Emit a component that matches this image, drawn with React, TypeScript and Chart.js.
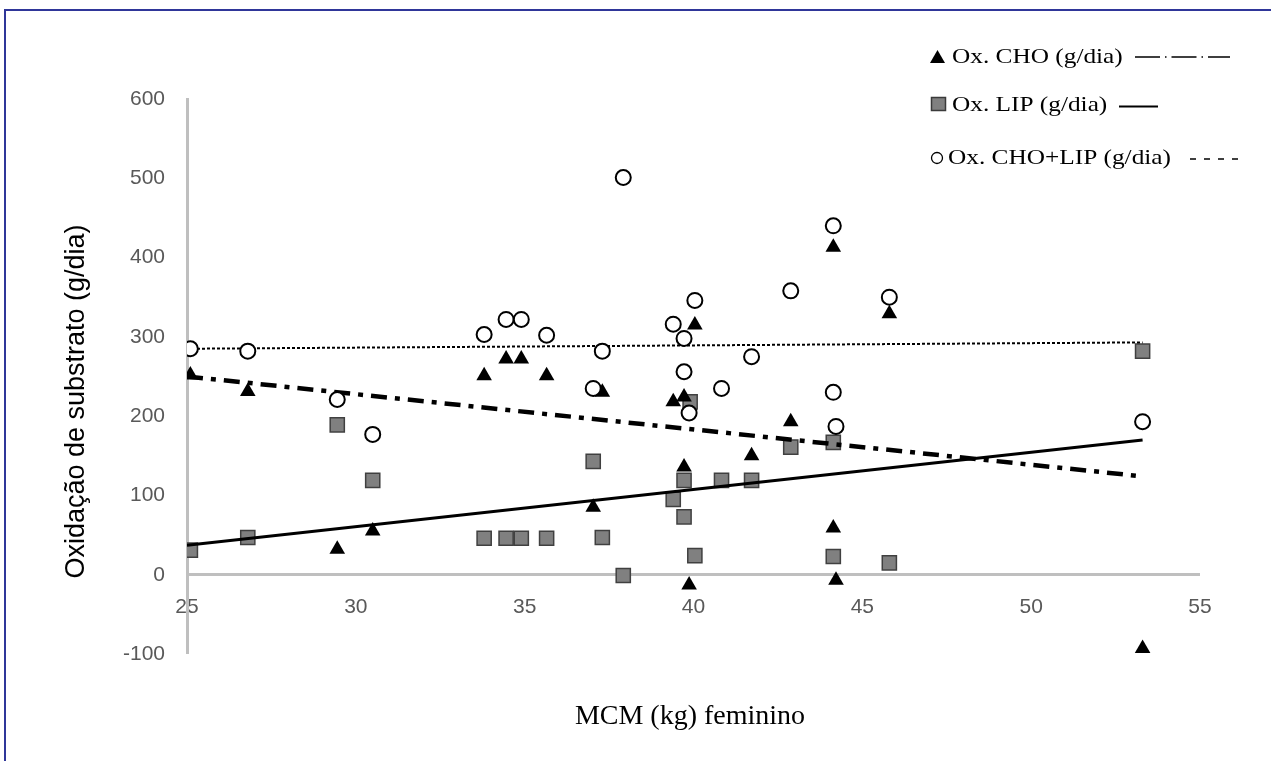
import React, { useEffect, useRef } from 'react';
import { Chart, registerables } from 'chart.js';

Chart.register(...registerables);

// ---- Data ----
const choX = [25.1, 26.8, 29.45, 30.5, 33.8, 34.45, 34.9, 35.65, 37.03, 37.3, 39.4, 39.72, 39.72, 39.87, 40.04, 41.72, 42.88, 44.14, 44.14, 44.22, 45.8, 53.3];
const choY = [252, 231, 32, 55, 251, 272, 272, 251, 85, 230, 218, 224, 136, -13, 315, 150, 193, 413, 59, -7, 329, -93];

const lipX = [25.1, 26.8, 29.45, 30.5, 33.8, 34.45, 34.9, 35.65, 37.03, 37.3, 37.92, 39.4, 39.72, 39.72, 39.9, 40.04, 40.83, 41.72, 42.88, 44.14, 44.14, 45.8, 53.3];
const lipY = [31, 47, 189, 119, 46, 46, 46, 46, 143, 47, -1, 95, 119, 73, 218, 24, 119, 119, 161, 167, 23, 15, 282];

const totX = [25.1, 26.8, 29.45, 30.5, 33.8, 34.45, 34.9, 35.65, 37.03, 37.3, 37.92, 39.4, 39.72, 39.72, 39.87, 40.04, 40.83, 41.72, 42.88, 44.14, 44.14, 44.22, 45.8, 53.3];
const totY = [285, 282, 221, 177, 303, 322, 322, 302, 235, 282, 501, 316, 298, 256, 204, 346, 235, 275, 358, 440, 230, 187, 350, 193];

// trend lines (end points)
const trendX = [25, 53.3];
const choTrend = [250, 124];
const lipTrend = [37, 170];
const totTrend = [285, 293];

const xTickValues = [25, 30, 35, 40, 45, 50, 55];
const yTickValues = [-100, 0, 100, 200, 300, 400, 500, 600];

const legendLabels = ['Ox. CHO (g/dia)', 'Ox. LIP (g/dia)', 'Ox. CHO+LIP (g/dia)'];
const xTitle = 'MCM (kg) feminino';
const yTitle = 'Oxidação de substrato (g/dia)';

const pts = (xs: number[], ys: number[]) => xs.map((x, i) => ({ x, y: ys[i] }));

const SERIF = '"Liberation Serif", "Times New Roman", serif';
const SANS = '"Liberation Sans", Arial, sans-serif';

function stretchedText(ctx: CanvasRenderingContext2D, text: string, x: number, y: number, sx: number) {
  ctx.save();
  ctx.translate(x, y);
  ctx.scale(sx, 1);
  ctx.fillText(text, 0, 0);
  ctx.restore();
}

const overlayPlugin = {
  id: 'overlay',
  afterDraw(chart: any) {
    const ctx: CanvasRenderingContext2D = chart.ctx;
    ctx.save();
    // y title
    ctx.save();
    ctx.translate(83.5, 401.5);
    ctx.rotate(-Math.PI / 2);
    ctx.font = `27px ${SANS}`;
    ctx.fillStyle = '#000';
    ctx.textAlign = 'center';
    ctx.textBaseline = 'alphabetic';
    ctx.fillText(yTitle, 0, 0);
    ctx.restore();

    // x title
    ctx.font = `28px ${SERIF}`;
    ctx.fillStyle = '#000';
    ctx.textAlign = 'center';
    ctx.textBaseline = 'middle';
    ctx.fillText(xTitle, 690, 717);

    // legend
    const base = [63, 111, 164];
    const lineY = [57, 106.5, 159];
    ctx.font = `22px ${SERIF}`;
    ctx.textAlign = 'left';
    ctx.textBaseline = 'alphabetic';
    // row 1 triangle
    ctx.fillStyle = '#000';
    ctx.beginPath();
    ctx.moveTo(937.5, 50);
    ctx.lineTo(945, 63);
    ctx.lineTo(930, 63);
    ctx.closePath();
    ctx.fill();
    stretchedText(ctx, legendLabels[0], 952, base[0], 1.15);
    // row 2 square
    ctx.fillStyle = '#808080';
    ctx.strokeStyle = '#3a3a3a';
    ctx.lineWidth = 1.5;
    ctx.fillRect(931.5, 97.5, 14, 13);
    ctx.strokeRect(931.5, 97.5, 14, 13);
    ctx.fillStyle = '#000';
    stretchedText(ctx, legendLabels[1], 952, base[1], 1.15);
    // row 3 circle
    ctx.beginPath();
    ctx.arc(937, 158, 5.5, 0, Math.PI * 2);
    ctx.fillStyle = '#fff';
    ctx.fill();
    ctx.strokeStyle = '#000';
    ctx.lineWidth = 1.3;
    ctx.stroke();
    ctx.fillStyle = '#000';
    stretchedText(ctx, legendLabels[2], 948, base[2], 1.15);

    // line samples
    ctx.strokeStyle = '#000';
    ctx.lineWidth = 1.5;
    ctx.setLineDash([25, 5, 1.5, 5]);
    ctx.beginPath();
    ctx.moveTo(1135, lineY[0]);
    ctx.lineTo(1230, lineY[0]);
    ctx.stroke();
    ctx.setLineDash([]);
    ctx.lineWidth = 2;
    ctx.beginPath();
    ctx.moveTo(1119, lineY[1]);
    ctx.lineTo(1158, lineY[1]);
    ctx.stroke();
    ctx.lineWidth = 1.5;
    ctx.setLineDash([6, 8]);
    ctx.beginPath();
    ctx.moveTo(1190, lineY[2]);
    ctx.lineTo(1242, lineY[2]);
    ctx.stroke();
    ctx.restore();
  },
};

export default function App() {
  const ref = useRef<HTMLCanvasElement | null>(null);

  useEffect(() => {
    if (!ref.current) return;
    const chart = new Chart(ref.current, {
      type: 'scatter',
      data: {
        datasets: [
          {
            label: legendLabels[2],
            data: pts(totX, totY),
            pointStyle: 'circle',
            pointRadius: 7.5,
            pointBorderWidth: 2,
            pointBackgroundColor: '#ffffff',
            pointBorderColor: '#000000',
            order: 0,
          },
          {
            label: 'trend tot',
            type: 'line',
            data: pts(trendX, totTrend),
            borderColor: '#000',
            borderWidth: 2,
            borderDash: [3, 2],
            pointRadius: 0,
            fill: false,
            order: 1,
          },
          {
            label: 'trend cho',
            type: 'line',
            data: pts(trendX, choTrend),
            borderColor: '#000',
            borderWidth: 4.5,
            borderDash: [16, 8, 5, 8],
            pointRadius: 0,
            fill: false,
            order: 2,
          },
          {
            label: 'trend lip',
            type: 'line',
            data: pts(trendX, lipTrend),
            borderColor: '#000',
            borderWidth: 3,
            pointRadius: 0,
            fill: false,
            order: 3,
          },
          {
            label: legendLabels[0],
            data: pts(choX, choY),
            pointStyle: 'triangle',
            pointRadius: 9,
            pointBorderWidth: 0,
            pointBackgroundColor: '#000',
            pointBorderColor: '#000',
            order: 4,
          },
          {
            label: legendLabels[1],
            data: pts(lipX, lipY),
            pointStyle: 'rect',
            pointRadius: 10,
            pointBorderWidth: 1.5,
            pointBackgroundColor: '#808080',
            pointBorderColor: '#404040',
            order: 5,
          },
        ],
      },
      options: {
        responsive: false,
        animation: false,
        devicePixelRatio: 1,
        layout: { padding: { left: 0, top: 99, right: 71, bottom: 107 } },
        plugins: { legend: { display: false }, tooltip: { enabled: false } },
        scales: {
          x: {
            type: 'linear',
            position: { y: 0 } as any,
            min: 25,
            max: 55,
            afterBuildTicks: (s: any) => { s.ticks = xTickValues.map((v) => ({ value: v })); },
            ticks: {
              color: '#595959',
              font: { family: SANS, size: 21 },
              padding: 20,
              maxRotation: 0,
            },
            grid: { display: false, drawTicks: false, lineWidth: 0 },
            border: { display: true, color: '#bfbfbf', width: 3 },
          },
          y: {
            type: 'linear',
            min: -100,
            max: 600,
            afterFit: (s: any) => { s.width = 187; },
            afterBuildTicks: (s: any) => { s.ticks = yTickValues.map((v) => ({ value: v })); },
            ticks: {
              color: '#595959',
              font: { family: SANS, size: 21 },
              padding: 22,
            },
            grid: { display: false, drawTicks: false, lineWidth: 0 },
            border: { display: true, color: '#bfbfbf', width: 3 },
          },
        },
      },
      plugins: [overlayPlugin],
    });
    return () => chart.destroy();
  }, []);

  return (
    <div style={{ position: 'fixed', left: 0, top: 0, width: 1271, height: 761, background: '#fff', overflow: 'hidden' }}>
      <canvas ref={ref} width={1271} height={761} style={{ display: 'block', position: 'absolute', left: 0, top: 0 }} />
      <div
        style={{
          position: 'absolute',
          left: 4,
          top: 9,
          width: 1400,
          height: 900,
          borderTop: '2px solid #2F3699',
          borderLeft: '2px solid #2F3699',
          pointerEvents: 'none',
        }}
      />
    </div>
  );
}
